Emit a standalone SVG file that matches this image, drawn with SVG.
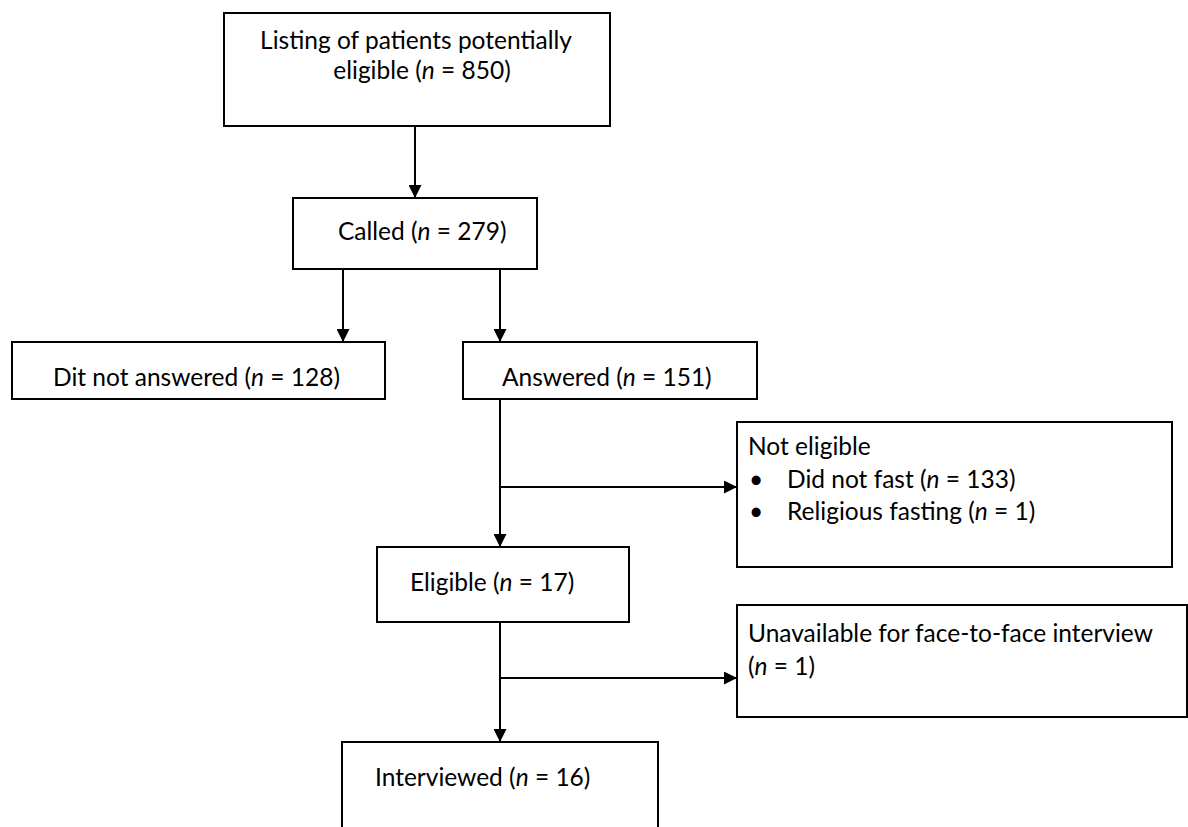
<svg xmlns="http://www.w3.org/2000/svg" width="1188" height="827" viewBox="0 0 1188 827">
<style>
.box{fill:#fff;stroke:#000;stroke-width:2}
.t{font-family:Lato,"Open Sans","Liberation Sans",sans-serif;font-size:24.5px;fill:#000}
.c{stroke:#000;stroke-width:2;fill:none}
</style>
<defs>
<marker id="ah" markerWidth="13" markerHeight="13" refX="12" refY="6.5" orient="auto" markerUnits="userSpaceOnUse" viewBox="0 0 13 13">
<path d="M0,0 L13,6.5 L0,13 Z" fill="#000"/>
</marker>
</defs>
<rect width="1188" height="827" fill="#fff"/>
<g id="connectors">
<line class="c" x1="415" y1="126" x2="415" y2="197" marker-end="url(#ah)"/>
<line class="c" x1="343" y1="269" x2="343" y2="341" marker-end="url(#ah)"/>
<line class="c" x1="500" y1="269" x2="500" y2="341" marker-end="url(#ah)"/>
<line class="c" x1="500" y1="399" x2="500" y2="546" marker-end="url(#ah)"/>
<line class="c" x1="500" y1="487" x2="736" y2="487" marker-end="url(#ah)"/>
<line class="c" x1="500" y1="622" x2="500" y2="741" marker-end="url(#ah)"/>
<line class="c" x1="500" y1="678" x2="736" y2="678" marker-end="url(#ah)"/>
</g>
<g id="n1"><rect class="box" x="224" y="13" width="386" height="113"/>
<text class="t" x="416" y="49" text-anchor="middle">Listing of patients potentially</text>
<text class="t" x="422" y="79" text-anchor="middle">eligible (<tspan font-style="italic">n</tspan> = 850)</text></g>
<g id="n2"><rect class="box" x="293" y="198" width="244" height="71"/>
<text class="t" x="338" y="240">Called (<tspan font-style="italic">n</tspan> = 279)</text></g>
<g id="n3"><rect class="box" x="12" y="342" width="373" height="57"/>
<text class="t" x="53" y="386">Dit not answered (<tspan font-style="italic">n</tspan> = 128)</text></g>
<g id="n4"><rect class="box" x="463" y="342" width="294" height="57"/>
<text class="t" x="502" y="386">Answered (<tspan font-style="italic">n</tspan> = 151)</text></g>
<g id="n5"><rect class="box" x="737" y="422" width="435" height="145"/>
<text class="t" x="748" y="455">Not eligible</text>
<text class="t" x="749" y="488">•</text>
<text class="t" x="787" y="488">Did not fast (<tspan font-style="italic">n</tspan> = 133)</text>
<text class="t" x="749" y="520">•</text>
<text class="t" x="787" y="520">Religious fasting (<tspan font-style="italic">n</tspan> = 1)</text></g>
<g id="n6"><rect class="box" x="377" y="547" width="252" height="75"/>
<text class="t" x="410" y="591">Eligible (<tspan font-style="italic">n</tspan> = 17)</text></g>
<g id="n7"><rect class="box" x="737" y="605" width="450" height="112"/>
<text class="t" x="748" y="642">Unavailable for face-to-face interview</text>
<text class="t" x="748" y="675">(<tspan font-style="italic">n</tspan> = 1)</text></g>
<g id="n8"><rect class="box" x="342" y="742" width="316" height="100"/>
<text class="t" x="375" y="786">Interviewed (<tspan font-style="italic">n</tspan> = 16)</text></g>
</svg>
